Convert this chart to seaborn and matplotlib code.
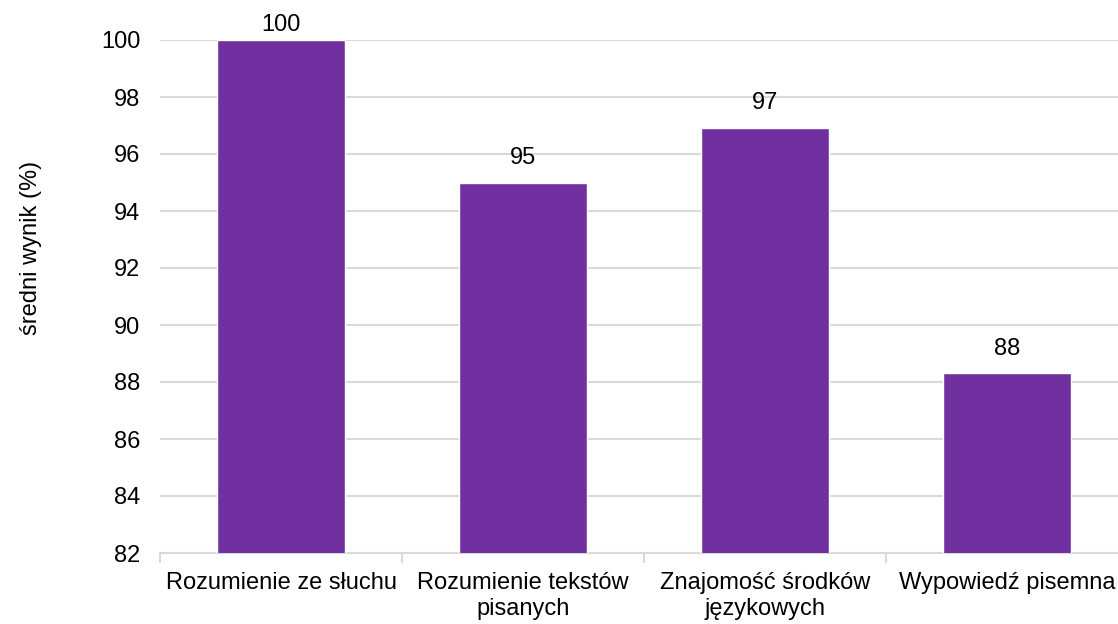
import pandas as pd
import seaborn as sns
from matplotlib import pyplot as plt
from matplotlib.ticker import FixedLocator

categories = ['Rozumienie ze słuchu', 'Rozumienie tekstów\npisanych',
              'Znajomość środków\njęzykowych', 'Wypowiedź pisemna']
values = [100.0, 95.0, 96.9, 88.3]
value_labels = ['100', '95', '97', '88']
yticks = [82, 84, 86, 88, 90, 92, 94, 96, 98, 100]

df = pd.DataFrame({'kategoria': categories, 'wynik': values})

sns.set_theme(style='white')
plt.rcParams['font.family'] = ['Liberation Sans', 'DejaVu Sans']

fig = plt.figure(figsize=(11.18, 6.24), dpi=100)
ax = fig.add_axes([160 / 1118, 1 - 553 / 624, 968 / 1118, 513 / 624])

sns.barplot(data=df, x='kategoria', y='wynik', color='#7030A0', saturation=1,
            width=0.525, ax=ax, zorder=3)

ax.set_ylim(82, 100)
ax.set_xlim(-0.5, 3.5)
ax.set_yticks(yticks)
ax.yaxis.grid(True, color='#D9D9D9', linewidth=1.5, zorder=0)
ax.set_axisbelow(True)

for s in ['top', 'right', 'left']:
    ax.spines[s].set_visible(False)
ax.spines['bottom'].set_color('#D9D9D9')
ax.spines['bottom'].set_linewidth(1.5)

texts = ax.bar_label(ax.containers[0], labels=value_labels, padding=10,
                     fontsize=17, color='#000000')
# etykieta przy górnej krawędzi wykresu siedzi niżej
texts[0].xyann = (0, 3)

ax.tick_params(axis='y', length=0, labelsize=17, colors='#000000', pad=14)
ax.tick_params(axis='x', which='major', length=0, labelsize=17,
               colors='#000000', pad=14)
ax.xaxis.set_minor_locator(FixedLocator([-0.5, 0.5, 1.5, 2.5, 3.5]))
ax.tick_params(axis='x', which='minor', length=7, width=1.5, color='#D9D9D9',
               bottom=True)
for lbl in ax.get_xticklabels():
    lbl.set_multialignment('center')

ax.set_xlabel('')
ax.set_ylabel('średni wynik (%)', fontsize=17, color='#000000')
ax.yaxis.set_label_coords(-0.122, 0.595)

plt.savefig('out.png', dpi=100)
